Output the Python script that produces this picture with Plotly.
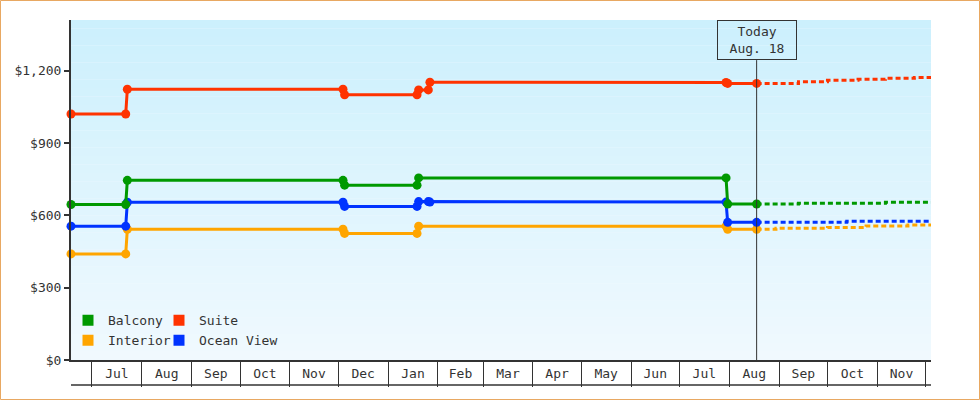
import plotly.graph_objects as go

# observed fares, by cabin type
dates_short = ["2018-06-18", "2018-07-22", "2018-07-23", "2018-12-04", "2018-12-05",
               "2019-01-19", "2019-01-20", "2019-07-30", "2019-07-31", "2019-08-18"]
dates_long = ["2018-06-18", "2018-07-22", "2018-07-23", "2018-12-04", "2018-12-05",
              "2019-01-19", "2019-01-20", "2019-01-26", "2019-01-27",
              "2019-07-30", "2019-07-31", "2019-08-18"]

balcony = [645, 645, 745, 745, 725, 725, 755, 755, 647, 647]
interior = [440, 440, 542, 542, 525, 525, 555, 555, 542, 542]
suite = [1020, 1020, 1123, 1123, 1100, 1100, 1120, 1120, 1152, 1151, 1147, 1147]
ocean_view = [555, 555, 654, 654, 637, 637, 657, 657, 655, 655, 571, 571]

# forecast after today
today = "2019-08-18"
today_label = "Today<br>Aug. 18"
fc_balcony_x = ["2019-08-18", "2019-09-13", "2019-11-06", "2019-12-06"]
fc_balcony_y = [647, 650, 654, 654]
fc_interior_x = ["2019-08-18", "2019-08-30", "2019-10-01", "2019-10-25", "2019-11-20", "2019-12-06"]
fc_interior_y = [542, 546, 550, 556, 560, 560]
fc_suite_x = ["2019-08-18", "2019-09-13", "2019-10-01", "2019-10-20", "2019-11-06", "2019-11-24", "2019-12-06"]
fc_suite_y = [1147, 1154, 1160, 1164, 1168, 1172, 1172]
fc_ocean_x = ["2019-08-18", "2019-10-13", "2019-12-06"]
fc_ocean_y = [571, 575, 575]

y_ticks = [0, 300, 600, 900, 1200]
y_labels = ["$0", "$300", "$600", "$900", "$1,200"]

names = ["Balcony", "Suite", "Interior", "Ocean View"]
colors = {"Balcony": "#009900", "Suite": "#ff3300", "Interior": "#ffa500", "Ocean View": "#0033ff"}

FONT = "DejaVu Sans Mono"
INK = "#333333"

series = {
    "Balcony": (dates_short, balcony, fc_balcony_x, fc_balcony_y),
    "Interior": (dates_short, interior, fc_interior_x, fc_interior_y),
    "Suite": (dates_long, suite, fc_suite_x, fc_suite_y),
    "Ocean View": (dates_long, ocean_view, fc_ocean_x, fc_ocean_y),
}

fig = go.Figure()
for name in ["Interior", "Ocean View", "Balcony", "Suite"]:
    x, y, fx, fy = series[name]
    c = colors[name]
    fig.add_trace(go.Scatter(x=fx, y=fy, mode="lines", line=dict(color=c, width=3, dash="5px,3px", shape="hv"),
                             showlegend=False, hoverinfo="skip"))
    fig.add_trace(go.Scatter(x=x, y=y, mode="lines+markers", line=dict(color=c, width=3),
                             marker=dict(color=c, size=9, symbol="circle"),
                             cliponaxis=False, showlegend=False))

# legend entries (coloured squares), one small legend per entry so they sit in a 2x2 grid
legend_pos = {"Balcony": (0, 0.117), "Suite": (1, 0.117), "Interior": (0, 0.058), "Ocean View": (1, 0.058)}
legend_ids = ["legend", "legend2", "legend3", "legend4"]
for lid, name in zip(legend_ids, names):
    fig.add_trace(go.Scatter(x=[None], y=[None], mode="markers", name=name,
                             marker=dict(color=colors[name], symbol="square", size=11),
                             legend=lid))

legends = {}
for lid, name in zip(legend_ids, names):
    col, ypos = legend_pos[name]
    legends[lid] = dict(orientation="h", x=(-3 + col * 91) / 860, xanchor="left", y=ypos, yanchor="middle",
                        bgcolor="rgba(0,0,0,0)", font=dict(family=FONT, size=13, color=INK), itemwidth=30)

# background gradient, light blue at top fading to near white
top = (204, 240, 253)
bot = (240, 249, 254)
n = 40
shapes = []
for i in range(n):
    t = i / (n - 1)
    col = tuple(round(top[k] + (bot[k] - top[k]) * t) for k in range(3))
    shapes.append(dict(type="rect", xref="paper", yref="paper", x0=0, x1=1,
                       y0=1 - (i + 1) / n, y1=1 - i / n, layer="below",
                       line=dict(width=0), fillcolor="rgb(%d,%d,%d)" % col))

# today marker line, bottom rule of the month cells, outer frame
shapes.append(dict(type="line", xref="x", yref="paper", x0=today, x1=today, y0=0, y1=0.882,
                   line=dict(color=INK, width=1)))
shapes.append(dict(type="line", xref="paper", yref="paper", x0=0, x1=1, y0=-25 / 340, y1=-25 / 340,
                   line=dict(color=INK, width=1.5)))
shapes.append(dict(type="rect", xref="paper", yref="paper",
                   x0=(0.5 - 71) / 860, x1=(979.5 - 71) / 860,
                   y0=(360 - 399.5) / 340, y1=(360 - 0.5) / 340,
                   line=dict(color="#e8a862", width=1)))

fig.update_layout(
    width=980, height=400, autosize=False,
    margin=dict(l=71, r=49, t=20, b=40),
    paper_bgcolor="white", plot_bgcolor="rgb(240,249,254)",
    font=dict(family=FONT, size=13, color=INK),
    shapes=shapes,
    annotations=[dict(x=today, xref="x", y=1, yref="paper", yanchor="top", showarrow=False,
                      text=today_label, font=dict(family=FONT, size=13, color=INK),
                      bordercolor=INK, borderwidth=1, borderpad=1, width=76, height=36,
                      bgcolor="rgba(0,0,0,0)")],
    xaxis=dict(type="date", range=["2018-06-18", "2019-12-04 08:00"],
               tick0="2018-06-01", dtick="M1", tickformat="%b", ticklabelmode="period",
               ticks="outside", ticklen=25, tickwidth=1, tickcolor=INK,
               ticklabelstandoff=-24,
               showline=True, linecolor=INK, linewidth=1.5, showgrid=False, zeroline=False,
               tickfont=dict(family=FONT, size=13, color=INK)),
    yaxis=dict(range=[0, 1410], tickmode="array", tickvals=y_ticks, ticktext=y_labels,
               ticks="outside", ticklen=5, tickwidth=2, tickcolor=INK,
               showline=True, linecolor=INK, linewidth=2, showgrid=False, zeroline=False,
               tickfont=dict(family=FONT, size=13, color=INK)),
    **legends,
)

fig.write_html("out.html", config={"displayModeBar": False},
               post_script="document.body.style.margin='0';")
